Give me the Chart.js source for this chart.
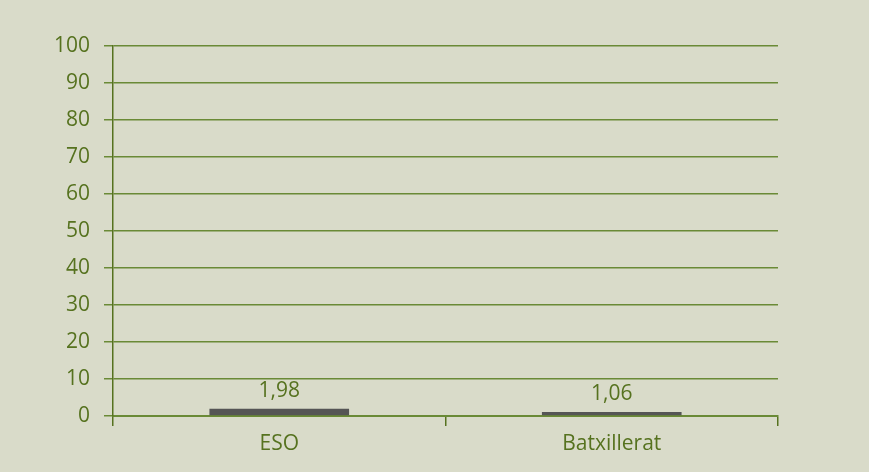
<!DOCTYPE html>
<html>
<head>
<meta charset="utf-8">
<script src="https://cdn.jsdelivr.net/npm/chart.js@4"></script>
<style>
  html, body { margin: 0; padding: 0; background: #d9dbc9; }
  #wrap { width: 869px; height: 472px; }
</style>
</head>
<body>
<div id="wrap"><canvas id="chart" width="869" height="472"></canvas></div>
<script>
const categories = ['ESO', 'Batxillerat'];
const values = [1.98, 1.06];
const yTicks = [0, 10, 20, 30, 40, 50, 60, 70, 80, 90, 100];

const green = '#56721f';
const lineGreen = '#6a8a36';
const fontFamily = '"Open Sans", "Noto Sans", sans-serif';

// Draw the value labels above each bar
const valueLabels = {
  id: 'valueLabels',
  afterDatasetsDraw(chart) {
    const ctx = chart.ctx;
    const meta = chart.getDatasetMeta(0);
    ctx.save();
    ctx.fillStyle = green;
    ctx.font = '21px ' + fontFamily;
    ctx.textAlign = 'center';
    ctx.textBaseline = 'middle';
    meta.data.forEach((bar, i) => {
      ctx.fillText(values[i].toFixed(2).replace('.', ','), bar.x, bar.y - 18);
    });
    ctx.restore();
  }
};

new Chart(document.getElementById('chart'), {
  type: 'bar',
  data: {
    labels: categories,
    datasets: [{
      data: values,
      backgroundColor: '#555555',
      barPercentage: 0.84,
      categoryPercentage: 0.5
    }]
  },
  options: {
    responsive: false,
    animation: false,
    layout: { padding: { top: 46, right: 91, left: 0, bottom: 0 } },
    plugins: {
      legend: { display: false },
      tooltip: { enabled: false }
    },
    scales: {
      x: {
        grid: { display: true, drawOnChartArea: false, offset: true, color: green, lineWidth: 1.5, tickLength: 10 },
        border: { color: lineGreen, width: 2 },
        ticks: { color: green, font: { family: fontFamily, size: 21 }, padding: 5 },
        afterFit(scale) { scale.height = 56; }
      },
      y: {
        min: 0,
        max: 100,
        afterBuildTicks(scale) { scale.ticks = yTicks.map(v => ({ value: v })); },
        grid: { color: lineGreen, lineWidth: 1.5, tickLength: 9 },
        border: { color: green, width: 1.5 },
        ticks: { color: green, font: { family: fontFamily, size: 21 }, padding: 14 },
        afterFit(scale) { scale.width = 113; }
      }
    }
  },
  plugins: [valueLabels]
});
</script>
</body>
</html>
